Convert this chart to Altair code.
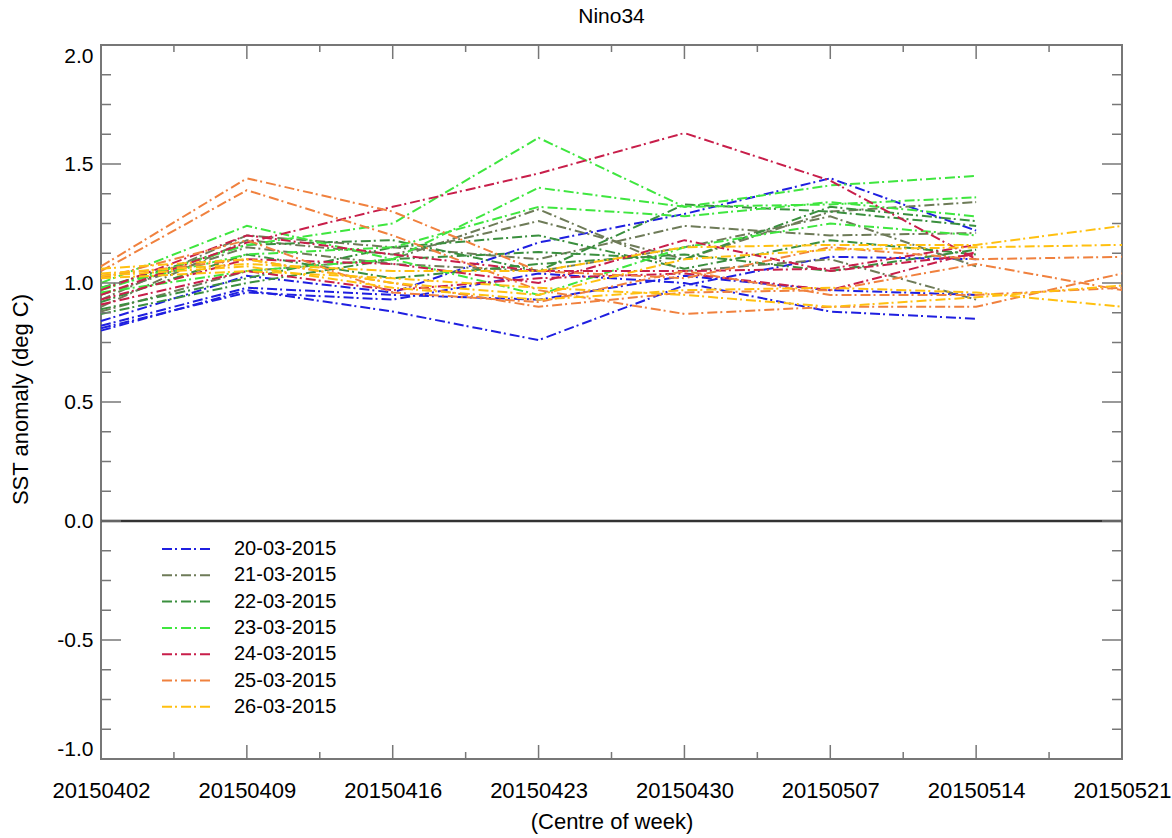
import altair as alt
import pandas as pd

# ---------------- data ----------------
week_labels = ["20150402", "20150409", "20150416", "20150423",
               "20150430", "20150507", "20150514", "20150521"]
week_days = [0, 7, 14, 21, 28, 35, 42, 49]

run_dates = ["20-03-2015", "21-03-2015", "22-03-2015", "23-03-2015",
             "24-03-2015", "25-03-2015", "26-03-2015"]
run_colors = ["#1f1fe0", "#6e7b58", "#3a8f3e", "#3fe63f",
              "#c81e4a", "#f0813e", "#ffc010"]

run_20 = [
    [0.84, 1.03, 0.96, 1.17, 1.29, 1.44, 1.22],
    [0.80, 0.97, 0.88, 0.76, 0.99, 1.11, 1.10],
    [0.82, 0.98, 0.95, 0.93, 1.03, 0.97, 0.95],
    [0.81, 0.96, 0.93, 1.04, 1.00, 0.88, 0.85],
]
run_21 = [
    [0.90, 1.18, 1.12, 1.26, 1.10, 1.30, 1.34],
    [0.93, 1.20, 1.15, 1.10, 1.24, 1.20, 1.21],
    [0.88, 1.05, 1.10, 1.31, 1.05, 1.10, 0.93],
    [0.95, 1.15, 1.08, 1.05, 1.15, 1.28, 1.07],
]
run_22 = [
    [0.87, 1.00, 1.10, 1.13, 1.10, 1.32, 1.26],
    [0.92, 1.12, 1.02, 1.08, 1.12, 1.05, 1.14],
    [0.98, 1.16, 1.18, 1.05, 1.33, 1.30, 1.24],
    [0.89, 1.02, 1.15, 1.20, 1.06, 1.18, 1.12],
]
run_23 = [
    [0.97, 1.16, 1.25, 1.61, 1.32, 1.41, 1.45],
    [1.00, 1.24, 1.10, 1.40, 1.32, 1.33, 1.36],
    [0.98, 1.12, 1.15, 1.32, 1.28, 1.34, 1.28],
    [0.96, 1.05, 1.10, 0.95, 1.15, 1.25, 1.20],
]
run_24 = [
    [0.95, 1.17, 1.32, 1.46, 1.63, 1.43, 1.10],
    [0.93, 1.10, 1.08, 1.00, 1.18, 1.05, 1.12],
    [0.97, 1.20, 1.12, 1.05, 1.05, 1.06, 1.16],
    [0.91, 1.05, 0.97, 1.02, 1.04, 0.97, 1.13],
]
run_25 = [
    [1.07, 1.44, 1.30, 1.05, 1.02, 1.15, 1.10, 1.11],
    [1.05, 1.39, 1.20, 0.97, 0.87, 0.90, 0.90, 1.04],
    [1.02, 1.18, 0.96, 0.92, 1.05, 0.95, 0.95, 0.98],
    [1.03, 1.10, 1.00, 0.90, 0.96, 0.97, 1.08, 0.97],
]
run_26 = [
    [1.04, 1.08, 1.05, 1.05, 1.15, 1.16, 1.16, 1.24],
    [1.06, 1.10, 1.00, 0.95, 1.10, 1.14, 1.15, 1.16],
    [1.02, 1.05, 1.02, 0.98, 0.95, 0.90, 0.94, 0.99],
    [1.03, 1.07, 0.98, 0.93, 0.97, 0.98, 0.96, 0.90],
]
all_runs = [run_20, run_21, run_22, run_23, run_24, run_25, run_26]

y_major = [-1.0, -0.5, 0.0, 0.5, 1.0, 1.5, 2.0]
y_minor = [v / 8 for v in range(-8, 17) if v % 4 != 0]
x_major = week_days
x_minor = [3.5, 10.5, 17.5, 24.5, 31.5, 38.5, 45.5]
zero_line = [0.0]

# ---------------- tables ----------------
rows = []
order = 0
for r, (date, members) in enumerate(zip(run_dates, all_runs)):
    for m, vals in enumerate(members):
        for i, v in enumerate(vals):
            rows.append({"run": date, "member": f"{date}_{m}", "order": order,
                         "day": week_days[i], "sst": v})
        order += 1
df = pd.DataFrame(rows)

W, H = 1021, 714
FONT = "Liberation Sans"
DASH = [10, 3, 2, 4]
FRAME = "#777777"

label_array = "[" + ",".join(f"'{w}'" for w in week_labels) + "]"

x_scale = alt.Scale(domain=[0, 49], nice=False, zero=False)
y_scale = alt.Scale(domain=[-1.0, 2.0], nice=False, zero=False)

x_axis = alt.Axis(values=x_major, labelExpr=f"{label_array}[round(datum.value / 7)]",
                  ticks=False, domain=False, grid=False,
                  title="(Centre of week)", labelPadding=21,
                  labelFontSize=22, titleFontSize=22, titlePadding=10,
                  titleFontWeight="normal", labelColor="black",
                  titleColor="black", labelFlush=False)
y_axis = alt.Axis(values=y_major,
                  labelExpr="replace(format(datum.value, '.1f'), '\u2212', '-')",
                  ticks=False, domain=False, grid=False,
                  title="SST anomaly (deg C)", labelPadding=8,
                  labelFontSize=21, titleFontSize=22,
                  titleFontWeight="normal", labelColor="black",
                  titleColor="black", labelFlush=True,
                  titleX=-81, titleY=H / 2 - 3, titleAngle=270,
                  titleBaseline="middle", titleAlign="center")

lines = alt.Chart(df).mark_line(strokeDash=DASH, strokeWidth=2).encode(
    x=alt.X("day:Q", scale=x_scale, axis=x_axis),
    y=alt.Y("sst:Q", scale=y_scale, axis=y_axis),
    color=alt.Color("run:N", scale=alt.Scale(domain=run_dates, range=run_colors),
                    legend=alt.Legend(title=None, orient="none", legendX=75, legendY=493,
                                      symbolType="M-2.5,0H2.5", symbolSize=400,
                                      symbolStrokeWidth=2, symbolDash=DASH,
                                      labelOffset=36, labelFontSize=20,
                                      labelColor="black", rowPadding=5.3,
                                      padding=0, labelFont=FONT)),
    detail="member:N",
    order="order:Q",
)

zero = alt.Chart(pd.DataFrame({"sst": zero_line})).mark_rule(
    color="#333333", strokeWidth=2.5).encode(y=alt.Y("sst:Q", scale=y_scale))


def yticks(vals, x0, x1):
    return alt.Chart(pd.DataFrame({"sst": vals})).mark_rule(
        color=FRAME, strokeWidth=1.5).encode(
        y=alt.Y("sst:Q", scale=y_scale),
        x=alt.value(x0), x2=alt.value(x1))


def xticks(vals, y0, y1):
    return alt.Chart(pd.DataFrame({"day": vals})).mark_rule(
        color=FRAME, strokeWidth=1.5).encode(
        x=alt.X("day:Q", scale=x_scale),
        y=alt.value(y0), y2=alt.value(y1))


ticks = [
    yticks(y_major, 0, 20), yticks(y_minor, 0, 10),
    yticks(y_major, W - 20, W), yticks(y_minor, W - 10, W),
    xticks(x_major, H - 14, H), xticks(x_minor, H - 7, H),
    xticks(x_major, 0, 14), xticks(x_minor, 0, 7),
]

chart = alt.layer(lines, zero, *ticks).properties(
    width=W, height=H,
    title=alt.TitleParams("Nino34", fontSize=21, fontWeight="normal", color="black",
                          font=FONT, anchor="middle", offset=17),
    autosize=alt.AutoSizeParams(type="none"),
    padding={"left": 101, "top": 45, "right": 50, "bottom": 79},
).configure(font=FONT).configure_view(
    stroke=FRAME, strokeWidth=2
).configure_axis(labelFont=FONT, titleFont=FONT)

chart.save("out.html", embed_options={"renderer": "svg", "actions": False})
